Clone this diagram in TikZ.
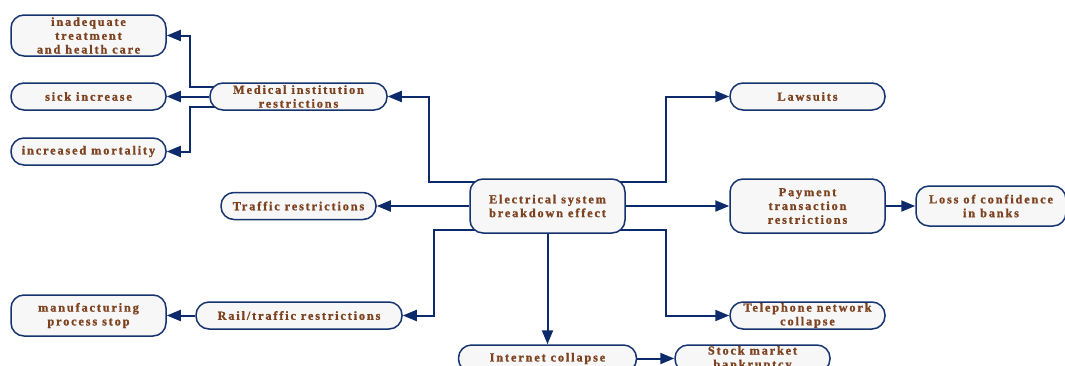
\documentclass[tikz,border=0pt]{standalone}
\usepackage{fontspec}
\setmainfont{Liberation Serif}[LetterSpace=15, BoldFont={Liberation Serif Bold}, BoldFeatures={FakeBold=1.2}]
\usetikzlibrary{arrows.meta}
\definecolor{boxline}{HTML}{15336F}
\definecolor{boxfill}{HTML}{F7F7F7}
\definecolor{txt}{HTML}{7D4220}
\definecolor{arrowc}{HTML}{0D2B6B}
\pgfdeclarelayer{bg}
\pgfsetlayers{bg,main}
\begin{document}
\begin{tikzpicture}[x=1pt,y=-1pt,
  box/.style={draw=boxline, line width=1.5pt, fill=boxfill, rounded corners=13pt,
    inner sep=0pt, align=center, text=txt,
    font=\bfseries\fontsize{12.3}{13.8}\selectfont},
  sz/.style 2 args={minimum width=#1pt, minimum height=#2pt},
  link/.style={draw=arrowc, line width=2pt, -{Triangle[length=14pt,width=11pt]}}]
\useasboundingbox (0,0) rectangle (1065,365);

% effect boxes
\node[box, sz={155}{41}] (inad)  at (88.5,35.5)  {inadequate\\treatment\\and health care};
\node[box, sz={155}{27}] (sick)  at (88.5,96.5)  {sick increase};
\node[box, sz={155}{27}] (mort)  at (88.5,151.5) {increased mortality};
\node[box, sz={177}{27}] (med)   at (298.5,96.5) {Medical institution\\restrictions};
\node[box, sz={155}{54}] (elec)  at (547.5,206)  {Electrical system\\breakdown effect};
\node[box, sz={155}{27}] (traf)  at (298.5,206)  {Traffic restrictions};
\node[box, sz={155}{27}] (law)   at (807.5,96.5) {Lawsuits};
\node[box, sz={155}{54}] (pay)   at (807.5,206)  {Payment\\transaction\\restrictions};
\node[box, sz={150}{40}] (loss)  at (991,206)    {Loss of confidence\\in banks};
\node[box, sz={206}{27}] (rail)  at (299,315.5)  {Rail/traffic restrictions};
\node[box, sz={155}{41}] (manu)  at (88.5,315.5) {manufacturing\\process stop};
\node[box, sz={155}{27}] (tel)   at (807.5,315.5){Telephone network\\collapse};
\node[box, sz={178}{27}] (inet)  at (547.5,358.5){Internet collapse};
\node[box, sz={155}{27}] (stock) at (752.5,358.5){Stock market\\bankruptcy};

% connectors, kept behind the boxes
\begin{pgfonlayer}{bg}
\draw[link] ([yshift=24pt]elec.center) -- ++(-119,0) |- (med.east);
\draw[link] (elec.west) -- (traf.east);
\draw[link] ([yshift=-24pt]elec.center) -- ++(-114,0) |- (rail.east);
\draw[link] (elec.south) -- (inet.north);
\draw[link] ([yshift=24pt]elec.center) -- ++(118.5,0) |- (law.west);
\draw[link] (elec.east) -- (pay.west);
\draw[link] ([yshift=-24pt]elec.center) -- ++(118.5,0) |- (tel.west);
\draw[link] (pay.east) -- (loss.west);
\draw[link] (inet.east) -- (stock.west);
\draw[link] ([yshift=9.5pt]med.center) -- ++(-108.5,0) |- (inad.east);
\draw[link] (med.west) -- (sick.east);
\draw[link] ([yshift=-10.5pt]med.center) -- ++(-108.5,0) |- (mort.east);
\draw[link] (rail.west) -- (manu.east);
\end{pgfonlayer}
\end{tikzpicture}
\end{document}
